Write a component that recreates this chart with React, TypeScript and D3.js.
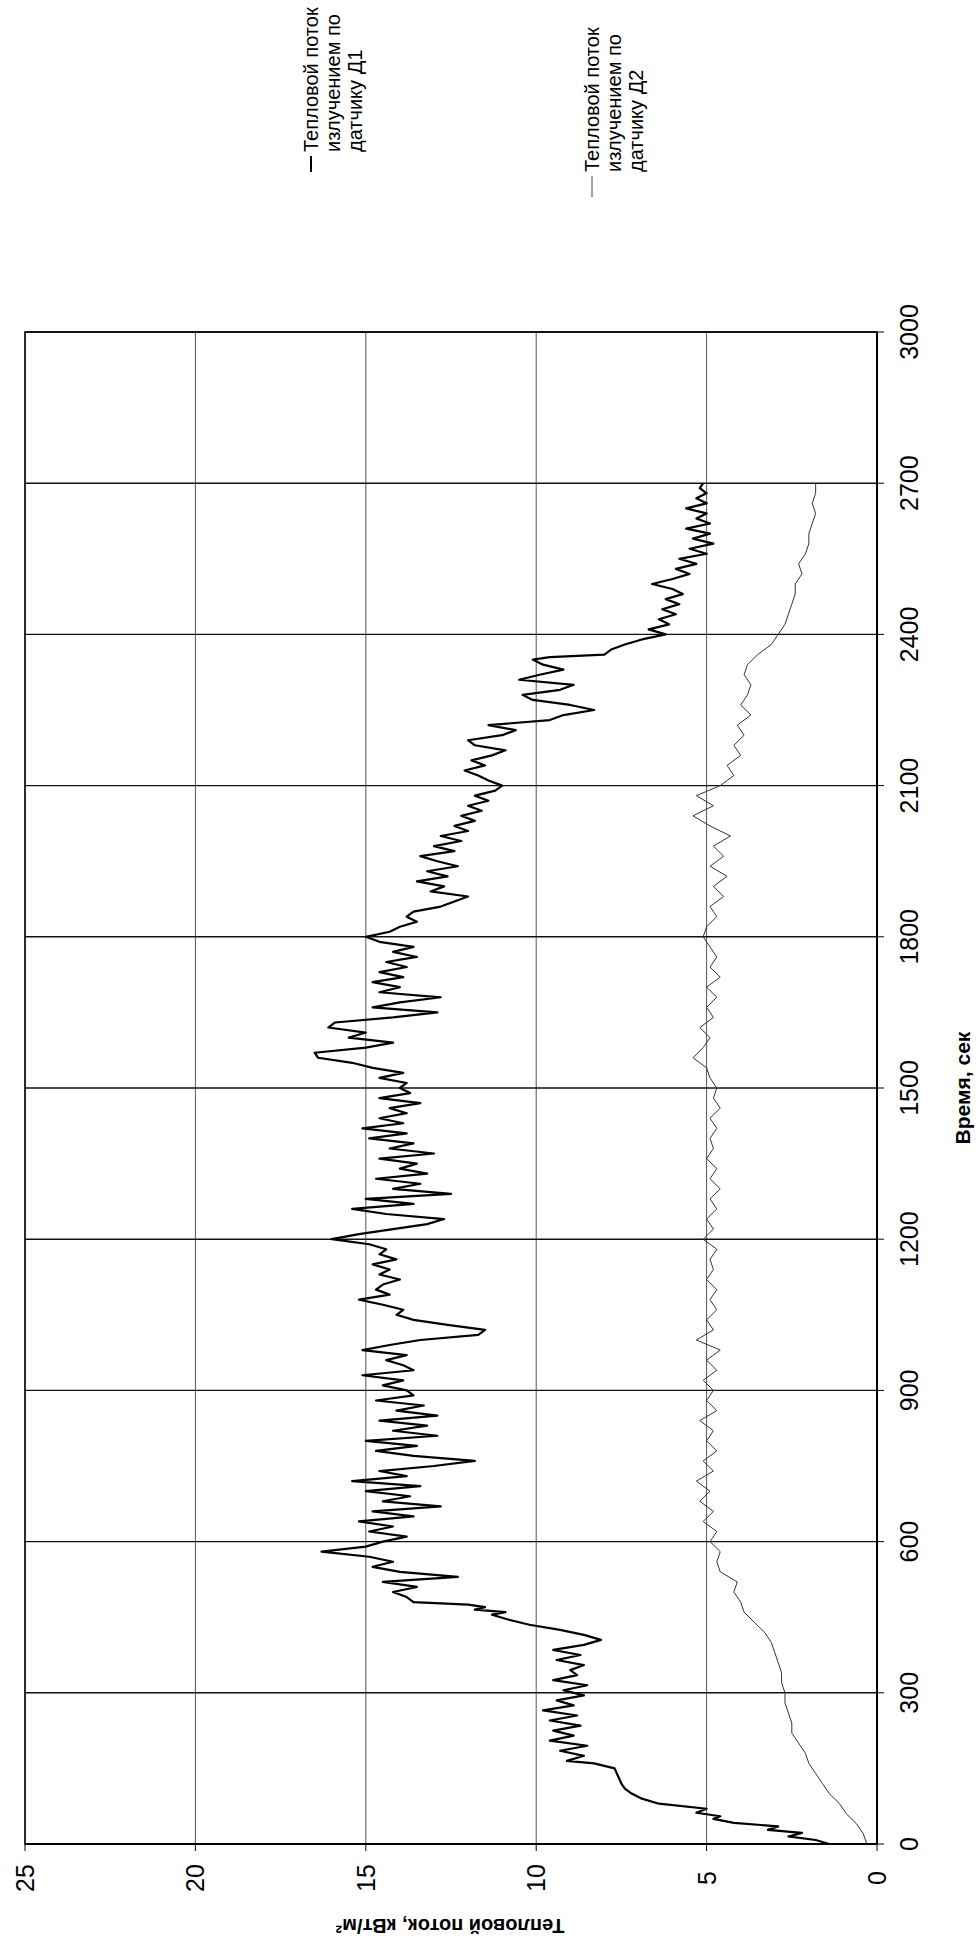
import React from 'react'
import * as d3 from 'd3'

// time axis (runs bottom -> top) and flux axis (runs right -> left)
const timeTicks = [0, 300, 600, 900, 1200, 1500, 1800, 2100, 2400, 2700, 3000]
const fluxTicks = [0, 5, 10, 15, 20, 25]

// sensor D1, thick line
const d1Time = [
  0, 8, 15, 22, 28, 35, 42, 50, 55, 62, 70, 80, 90, 100, 110, 120, 135, 150, 160, 165,
  175, 185, 195, 205, 215, 225, 235, 245, 255, 265, 275, 285, 295, 305, 315, 325, 335, 345, 355, 365,
  375, 385, 395, 405, 415, 425, 435, 445, 455, 460, 465, 470, 475, 480, 490, 500, 510, 520, 530, 540,
  550, 560, 570, 580, 590, 600, 610, 620, 630, 640, 650, 660, 670, 680, 690, 700, 710, 720, 730, 740,
  750, 760, 770, 780, 790, 800, 810, 820, 830, 840, 850, 860, 870, 880, 890, 900, 910, 920, 930, 940,
  950, 960, 970, 980, 990, 1000, 1010, 1020, 1030, 1040, 1050, 1060, 1070, 1080, 1090, 1100, 1110, 1120, 1130, 1140,
  1150, 1160, 1170, 1180, 1190, 1200, 1210, 1220, 1230, 1240, 1250, 1260, 1270, 1280, 1290, 1300, 1310, 1320, 1330, 1340,
  1350, 1360, 1370, 1380, 1390, 1400, 1410, 1420, 1430, 1440, 1450, 1460, 1470, 1480, 1490, 1500, 1510, 1520, 1530, 1540,
  1550, 1560, 1570, 1580, 1590, 1600, 1610, 1620, 1630, 1640, 1650, 1660, 1670, 1680, 1690, 1700, 1710, 1720, 1730, 1740,
  1750, 1760, 1770, 1780, 1790, 1800, 1810, 1820, 1830, 1840, 1850, 1860, 1870, 1880, 1890, 1900, 1910, 1920, 1930, 1940,
  1950, 1960, 1970, 1980, 1990, 2000, 2010, 2020, 2030, 2040, 2050, 2060, 2070, 2080, 2090, 2100, 2110, 2120, 2130, 2140,
  2150, 2160, 2170, 2180, 2190, 2200, 2210, 2220, 2230, 2240, 2250, 2260, 2270, 2280, 2290, 2300, 2310, 2320, 2330, 2340,
  2350, 2355, 2360, 2370, 2380, 2390, 2400, 2410, 2420, 2430, 2440, 2450, 2460, 2470, 2480, 2490, 2500, 2510, 2520, 2530,
  2540, 2550, 2560, 2570, 2580, 2590, 2600, 2610, 2620, 2630, 2640, 2650, 2660, 2670, 2680, 2690, 2700,
]
const d1Flux = [
  1.4, 1.8, 2.6, 2.2, 3.2, 2.9, 4.2, 4.8, 4.6, 5.3, 5.0, 6.4, 6.9, 7.2, 7.4, 7.5, 7.6, 7.7, 8.3, 9.1,
  8.6, 9.3, 8.5, 9.6, 8.9, 9.5, 8.7, 9.6, 8.8, 9.8, 8.9, 9.4, 8.6, 9.2, 8.5, 9.5, 8.8, 9.0, 8.6, 9.4,
  8.7, 9.5, 8.6, 8.1, 8.6, 9.3, 10.2, 10.8, 11.3, 10.9, 11.8, 11.5, 12.0, 13.6, 13.8, 14.2, 13.5, 14.5, 12.3, 14.0,
  14.8, 14.2, 14.9, 16.3, 15.0, 14.5, 13.8, 14.9, 14.2, 15.2, 13.6, 14.8, 12.8, 14.5, 13.7, 15.0, 13.4, 15.4, 13.8, 14.6,
  13.0, 11.8, 13.6, 14.7, 13.5, 15.0, 12.9, 14.2, 13.2, 14.6, 12.9, 14.1, 13.3, 14.7, 13.6, 13.8, 14.5, 13.9, 15.1, 13.6,
  13.9, 14.4, 13.8, 15.1, 14.3, 13.4, 11.7, 11.5, 12.6, 13.6, 14.1, 13.9, 14.5, 15.2, 14.3, 14.7, 14.5, 14.0, 14.6, 14.3,
  14.8, 14.1, 14.6, 14.4, 14.9, 16.0, 15.2, 14.2, 13.2, 12.7, 14.4, 15.4, 13.6, 15.0, 12.5, 14.2, 13.4, 14.7, 13.2, 14.0,
  13.5, 14.6, 13.0, 14.3, 13.6, 14.9, 13.8, 15.1, 13.9, 14.6, 13.8, 14.3, 13.4, 14.6, 13.7, 14.0, 13.8, 14.6, 13.9, 14.8,
  15.4, 16.4, 16.5, 15.0, 14.2, 15.5, 15.0, 16.1, 15.9, 14.2, 12.9, 14.8, 14.0, 12.8, 14.6, 14.0, 14.8, 13.9, 14.6, 13.8,
  14.4, 13.5, 14.2, 13.6, 14.6, 15.0, 14.3, 14.0, 13.5, 13.8, 13.6, 12.8, 12.4, 12.0, 13.1, 12.7, 13.5, 12.6, 13.2, 12.3,
  12.9, 13.4, 12.4, 13.0, 12.2, 12.8, 12.0, 12.4, 11.8, 12.2, 11.6, 12.0, 11.4, 11.8, 11.2, 11.0, 11.4, 11.7, 12.1, 11.5,
  11.9, 11.3, 10.9, 11.8, 12.0, 11.0, 10.6, 11.4, 9.6, 9.2, 8.3, 9.0, 10.1, 10.4, 9.3, 8.9, 10.5, 9.9, 9.2, 9.8,
  10.1, 9.6, 8.0, 7.8, 7.4, 6.9, 6.2, 6.7, 6.1, 6.4, 5.9, 6.3, 5.8, 6.2, 5.7, 6.0, 6.6, 6.0, 5.5, 5.9,
  5.3, 5.8, 5.0, 5.5, 4.8, 5.4, 4.9, 5.6, 4.9, 5.3, 5.0, 5.6, 5.0, 5.3, 5.0, 5.2, 5.1,
]

// sensor D2, thin line
const d2Time = [
  0, 20, 40, 60, 80, 100, 120, 140, 160, 180, 200, 220, 240, 260, 280, 300, 320, 340, 360, 380,
  400, 420, 440, 460, 480, 500, 520, 540, 560, 580, 600, 620, 640, 660, 680, 700, 720, 740, 760, 780,
  800, 820, 840, 860, 880, 900, 920, 940, 960, 980, 1000, 1020, 1040, 1060, 1080, 1100, 1120, 1140, 1160, 1180,
  1200, 1220, 1240, 1260, 1280, 1300, 1320, 1340, 1360, 1380, 1400, 1420, 1440, 1460, 1480, 1500, 1520, 1540, 1560, 1580,
  1600, 1620, 1640, 1660, 1680, 1700, 1720, 1740, 1760, 1780, 1800, 1820, 1840, 1860, 1880, 1900, 1920, 1940, 1960, 1980,
  2000, 2020, 2040, 2060, 2080, 2100, 2120, 2140, 2160, 2180, 2200, 2220, 2240, 2260, 2280, 2300, 2320, 2340, 2360, 2380,
  2400, 2420, 2440, 2460, 2480, 2500, 2520, 2540, 2560, 2580, 2600, 2620, 2640, 2660, 2680, 2700,
]
const d2Flux = [
  0.3, 0.4, 0.6, 0.9, 1.1, 1.4, 1.6, 1.8, 2.0, 2.1, 2.3, 2.5, 2.5, 2.6, 2.7, 2.7, 2.8, 2.8, 2.9, 3.0,
  3.1, 3.3, 3.6, 3.9, 4.0, 4.2, 4.1, 4.6, 4.7, 4.6, 4.9, 4.7, 5.1, 4.8, 5.2, 4.9, 5.3, 4.8, 5.1, 4.7,
  5.0, 4.8, 5.2, 4.7, 5.0, 4.8, 5.1, 4.7, 5.0, 4.6, 5.3, 4.8, 5.0, 4.7, 4.9, 4.7, 5.0, 4.8, 4.9, 4.7,
  5.1, 4.8, 5.0, 4.7, 4.9, 4.6, 4.9, 4.7, 5.0, 4.8, 4.9, 4.7, 4.9, 4.6, 4.8, 4.7, 4.9, 5.0, 5.4, 5.1,
  4.9, 5.2, 4.8, 5.0, 4.7, 5.0, 4.6, 4.9, 4.7, 4.9, 5.1, 5.0, 4.7, 4.9, 4.5, 4.8, 4.4, 4.9, 4.5, 4.8,
  4.3, 4.9, 5.4, 4.8, 5.3, 4.6, 4.2, 4.4, 4.0, 4.2, 3.9, 4.1, 3.7, 4.0, 3.8, 3.7, 3.9, 3.8, 3.5, 3.1,
  2.9, 2.7, 2.6, 2.5, 2.4, 2.4, 2.2, 2.3, 2.1, 2.0, 2.0, 1.9, 1.8, 1.9, 1.8, 1.8,
]

const legendD1 = ['Тепловой поток', 'излучением по', 'датчику Д1']
const legendD2 = ['Тепловой поток', 'излучением по', 'датчику Д2']

const font = '"Liberation Sans", Arial, sans-serif'

const App = () => {
  const left = 25
  const right = 877
  const top = 332
  const bottom = 1844

  const t = d3.scaleLinear().domain([0, 3000]).range([bottom, top])
  const f = d3.scaleLinear().domain([0, 25]).range([right, left])

  const line1 = d3.line<number>()
    .x((d, i) => f(d1Flux[i]))
    .y(d => t(d))
  const line2 = d3.line<number>()
    .x((d, i) => f(d2Flux[i]))
    .y(d => t(d))

  const legend = (rows: string[], x: number, y0: number, y1: number, thick: boolean) => (
    <g>
      <line x1={x} x2={x} y1={y0 + 4} y2={y1} stroke={thick ? '#000' : '#444'} strokeWidth={thick ? 2 : 1} />
      {rows.map((r, i) => {
        const cx = x + i * 22
        return (
          <text key={i} x={cx} y={y0} transform={`rotate(-90, ${cx}, ${y0})`}
            dominantBaseline="central" fontSize={20} fontFamily={font}>{r}</text>
        )
      })}
    </g>
  )

  return (
    <svg width={976} height={1942} style={{ position: 'absolute', left: 0, top: 0, background: '#fff' }}>
      {/* flux gridlines (vertical) */}
      {fluxTicks.map(v => (
        <g key={'f' + v}>
          <line x1={f(v)} x2={f(v)} y1={top} y2={bottom} stroke="#555" strokeWidth={1} />
          <line x1={f(v)} x2={f(v)} y1={bottom} y2={bottom + 7} stroke="#000" strokeWidth={1} />
          <text x={f(v)} y={1878} transform={`rotate(-90, ${f(v)}, 1878)`} textAnchor="middle"
            dominantBaseline="central" fontSize={25} fontFamily={font}>{v}</text>
        </g>
      ))}
      {/* time gridlines (horizontal) */}
      {timeTicks.map(v => (
        <g key={'t' + v}>
          <line x1={left} x2={right} y1={t(v)} y2={t(v)} stroke="#111" strokeWidth={1.4} />
          <line x1={right} x2={right + 7} y1={t(v)} y2={t(v)} stroke="#000" strokeWidth={1} />
          <text x={909} y={t(v)} transform={`rotate(-90, 909, ${t(v)})`} textAnchor="middle"
            dominantBaseline="central" fontSize={25} fontFamily={font}>{v}</text>
        </g>
      ))}
      <rect x={left} y={top} width={right - left} height={bottom - top} fill="none" stroke="#000" strokeWidth={1.5} />
      <line x1={right} x2={right} y1={top} y2={bottom} stroke="#000" strokeWidth={2} />
      <line x1={left} x2={right} y1={bottom} y2={bottom} stroke="#000" strokeWidth={2} />

      <path d={line2(d2Time) || ''} fill="none" stroke="#333" strokeWidth={1} />
      <path d={line1(d1Time) || ''} fill="none" stroke="#000" strokeWidth={2.2} strokeLinejoin="round" />

      <text x={962} y={1088} transform="rotate(-90, 962, 1088)" textAnchor="middle" dominantBaseline="central"
        fontSize={21} fontWeight="bold" fontFamily={font}>Время, сек</text>
      <text x={450} y={1926} transform="rotate(180, 450, 1926)" textAnchor="middle" dominantBaseline="central"
        fontSize={20} fontWeight="bold" fontFamily={font}>Тепловой поток, кВт/м²</text>

      {legend(legendD1, 311, 152, 172, true)}
      {legend(legendD2, 592, 172, 197, false)}
    </svg>
  )
}

export default App
